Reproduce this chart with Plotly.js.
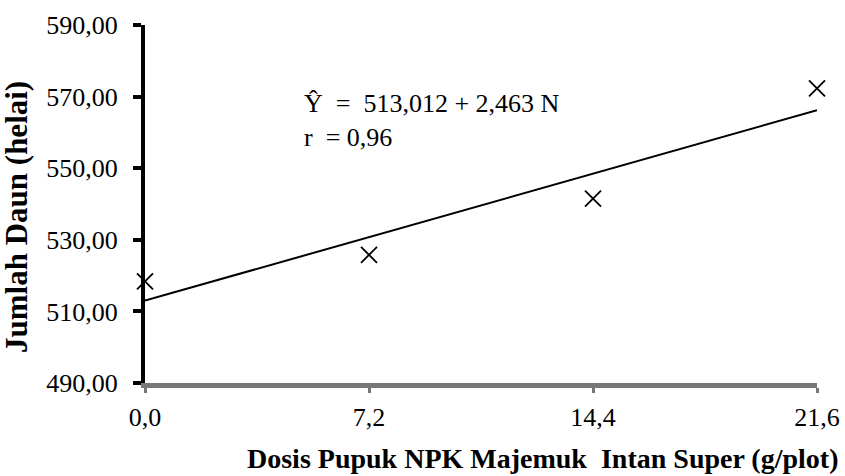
<!DOCTYPE html>
<html>
<head>
<meta charset="utf-8">
<script src="https://cdn.plot.ly/plotly-3.0.1.min.js"></script>
<style>html,body{margin:0;padding:0;background:#fff;}#chart{width:845px;height:476px;}</style>
</head>
<body>
<div id="chart"></div>
<script>
const doses = [0, 7.2, 14.4, 21.6];
const leafCount = [518.4, 525.8, 541.5, 572.3];
const xTickVals = [0, 7.2, 14.4, 21.6];
const yTickVals = [490, 510, 530, 550, 570, 590];
const intercept = 513.012;
const slope = 2.463;
const fitX = [0, 21.6];
const fitY = fitX.map(x => intercept + slope * x);

const serif = "Liberation Serif, Times New Roman, serif";

const traces = [
  {
    x: fitX, y: fitY, type: 'scatter', mode: 'lines',
    line: {color: '#000', width: 2}, hoverinfo: 'skip', showlegend: false, cliponaxis: false
  },
  {
    x: doses, y: leafCount, type: 'scatter', mode: 'markers',
    marker: {symbol: 'x-thin-open', size: 16, color: '#000', line: {color: '#000', width: 1.8}},
    showlegend: false, cliponaxis: false
  }
];

const layout = {
  width: 845, height: 476,
  margin: {l: 145, r: 28, t: 25, b: 93},
  paper_bgcolor: '#fff', plot_bgcolor: '#fff',
  separators: ',.',
  font: {family: serif, color: '#000', size: 26},
  showlegend: false,
  xaxis: {
    range: [0, 21.6], tickvals: xTickVals, tickformat: '.1f',
    showgrid: false, zeroline: false,
    showline: true, linecolor: '#777', linewidth: 5,
    ticks: 'outside', ticklen: 5, tickwidth: 3, tickcolor: '#777',
    ticklabelstandoff: 2,
    tickfont: {family: serif, size: 26, color: '#000'}
  },
  yaxis: {
    range: [490, 590], tickvals: yTickVals, tickformat: '.2f',
    showgrid: false, zeroline: false,
    showline: true, linecolor: '#000', linewidth: 4,
    ticks: 'outside', ticklen: 8, tickwidth: 4, tickcolor: '#000',
    ticklabelstandoff: 10,
    tickfont: {family: serif, size: 26, color: '#000'}
  },
  annotations: [
    {
      text: '<b>Jumlah Daun (helai)</b>',
      xref: 'paper', yref: 'paper', x: -0.1905, y: 0.4637, xanchor: 'center', yanchor: 'middle',
      textangle: -90, showarrow: false, font: {family: serif, size: 31, color: '#000'}
    },
    {
      text: '<b>Dosis Pupuk NPK Majemuk  Intan Super (g/plot)</b>',
      xref: 'paper', yref: 'paper', x: 1.034, y: -0.21, xanchor: 'right', yanchor: 'middle',
      showarrow: false, font: {family: serif, size: 28, color: '#000'}
    },
    {
      text: 'Ŷ  =  513,012 + 2,463 N<br>r  = 0,96',
      xref: 'x', yref: 'y', x: 5.05, y: 572.6, xanchor: 'left', yanchor: 'top', align: 'left',
      showarrow: false, font: {family: serif, size: 26, color: '#000'}
    }
  ]
};

Plotly.newPlot('chart', traces, layout, {displayModeBar: false, staticPlot: true});
</script>
</body>
</html>
